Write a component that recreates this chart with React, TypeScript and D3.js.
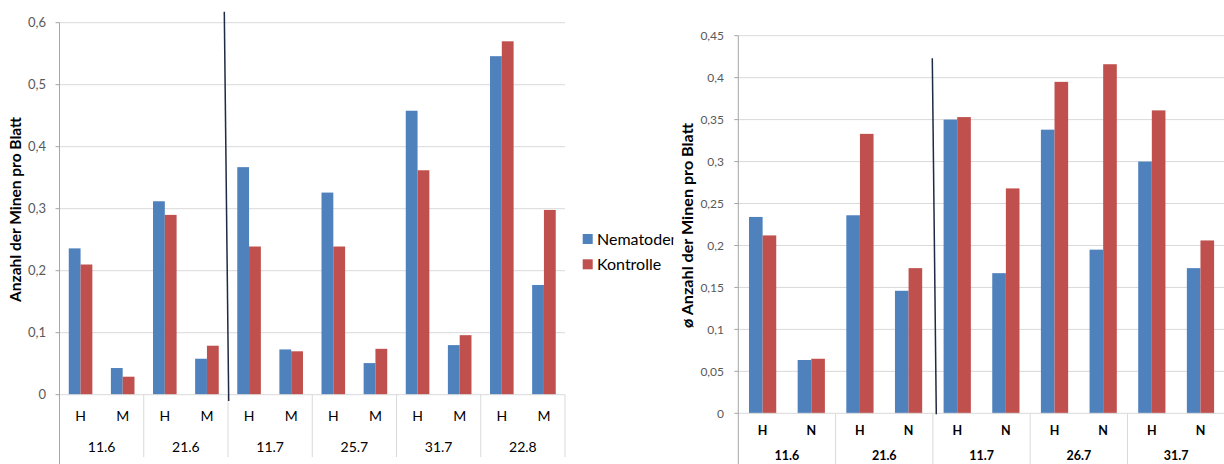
import React from "react";
import * as d3 from "d3";

// ---------- data ----------
const leftGroups = ["11.6", "21.6", "11.7", "25.7", "31.7", "22.8"];
const leftSubs = ["H", "M"];
const leftNematoden = [0.236, 0.043, 0.312, 0.058, 0.367, 0.073, 0.326, 0.051, 0.458, 0.08, 0.546, 0.177];
const leftKontrolle = [0.21, 0.029, 0.29, 0.079, 0.239, 0.07, 0.239, 0.074, 0.362, 0.096, 0.57, 0.298];
const leftTicks = [0, 0.1, 0.2, 0.3, 0.4, 0.5, 0.6];

const rightGroups = ["11.6", "21.6", "11.7", "26.7", "31.7"];
const rightSubs = ["H", "N"];
const rightNematoden = [0.234, 0.0635, 0.236, 0.146, 0.35, 0.167, 0.338, 0.195, 0.3, 0.173];
const rightKontrolle = [0.212, 0.065, 0.333, 0.173, 0.353, 0.268, 0.395, 0.416, 0.361, 0.206];
const rightTicks = [0, 0.05, 0.1, 0.15, 0.2, 0.25, 0.3, 0.35, 0.4, 0.45];

const seriesNames = ["Nematoden", "Kontrolle"];
const colors = ["#4f81bd", "#c0504d"];

const FONT = "Lato, 'Open Sans', sans-serif";
const fmt = (v: number) => String(+v.toFixed(2)).replace(".", ",");

type PanelProps = {
  groups: string[];
  subs: string[];
  s1: number[];
  s2: number[];
  ticks: number[];
  x0: number;
  x1: number;
  yZero: number;
  yTop: number;
  yMax: number;
  tickLabelX: number;
  tickFont: number;
  subY: number;
  groupY: number;
  labelFont: number;
  labelBold: boolean;
  sepBottom: number;
  divider: [number, number, number, number];
  title: string;
  titleX: number;
  titleY: number;
  titleFont: number;
  titleLen: number;
};

function Panel(p: PanelProps) {
  const n = p.groups.length * p.subs.length;
  const idx = d3.range(n).map(String);
  const xBand = d3.scaleBand<string>().domain(idx).range([p.x0, p.x1]).paddingInner(0).paddingOuter(0);
  const xGroup = d3.scaleBand<string>().domain(p.groups).range([p.x0, p.x1]);
  const y = d3.scaleLinear().domain([0, p.yMax]).range([p.yZero, p.yTop]);
  const bw = xBand.bandwidth() * 0.28;
  const series = [p.s1, p.s2];
  return (
    <g>
      {p.ticks.filter((t) => t > 0).map((t) => (
        <line key={"g" + t} x1={p.x0} x2={p.x1} y1={y(t)} y2={y(t)} stroke="#d9d9d9" strokeWidth={1} />
      ))}
      {p.ticks.map((t) => (
        <text key={"t" + t} x={p.tickLabelX} y={y(t)} dy="0.35em" textAnchor="end" fontSize={p.tickFont} fill="#595959" fontFamily={FONT}>
          {fmt(t)}
        </text>
      ))}
      {p.ticks.map((t) => (
        <line key={"tm" + t} x1={p.x0 - 4} x2={p.x0} y1={y(t)} y2={y(t)} stroke="#a6a6a6" strokeWidth={1} />
      ))}
      {series.map((s, si) =>
        s.map((v, i) => {
          const cx = (xBand(String(i)) as number) + xBand.bandwidth() / 2;
          const x = si === 0 ? cx - bw : cx;
          return <rect key={si + "-" + i} x={x} y={y(v)} width={bw} height={p.yZero - y(v)} fill={colors[si]} />;
        })
      )}
      <line x1={p.x0} x2={p.x1} y1={p.yZero} y2={p.yZero} stroke="#d9d9d9" strokeWidth={1} />
      <line x1={p.x0} x2={p.x0} y1={p.yTop} y2={464} stroke="#a6a6a6" strokeWidth={1} />
      {p.groups.map((g, gi) => {
        const gx = xGroup(g) as number;
        return (
          <g key={"grp" + g + gi}>
            {gi > 0 && <line x1={gx} x2={gx} y1={p.yZero} y2={p.sepBottom} stroke="#d9d9d9" strokeWidth={1} />}
            <text x={gx + xGroup.bandwidth() / 2} y={p.groupY} dy="0.35em" textAnchor="middle" fontSize={p.labelFont} fontWeight={p.labelBold ? "bold" : "normal"} fill="#000" fontFamily={FONT}>
              {g}
            </text>
          </g>
        );
      })}
      <line x1={p.x1} x2={p.x1} y1={p.yZero} y2={p.sepBottom} stroke="#d9d9d9" strokeWidth={1} />
      {idx.map((k, i) => (
        <text key={"s" + k} x={(xBand(k) as number) + xBand.bandwidth() / 2} y={p.subY} dy="0.35em" textAnchor="middle" fontSize={p.labelFont} fontWeight={p.labelBold ? "bold" : "normal"} fill="#000" fontFamily={FONT}>
          {p.subs[i % p.subs.length]}
        </text>
      ))}
      <line x1={p.divider[0]} y1={p.divider[1]} x2={p.divider[2]} y2={p.divider[3]} stroke="#1f2a44" strokeWidth={1.5} />
      <text
        transform={`translate(${p.titleX},${p.titleY}) rotate(-90)`}
        x={-p.titleLen / 2}
        dy="0.35em"
        textLength={p.titleLen}
        lengthAdjust="spacingAndGlyphs"
        fontSize={p.titleFont}
        fontWeight="bold"
        fill="#000"
        fontFamily={FONT}
      >
        {p.title}
      </text>
    </g>
  );
}

export default function App() {
  return (
    <svg width={1224} height={464} style={{ position: "absolute", left: 0, top: 0, background: "#fff" }}>
      <defs>
        <clipPath id="legclip">
          <rect x={570} y={200} width={103.5} height={100} />
        </clipPath>
      </defs>
      <rect x={0} y={0} width={1224} height={464} fill="#fff" />
      <Panel
        groups={leftGroups}
        subs={leftSubs}
        s1={leftNematoden}
        s2={leftKontrolle}
        ticks={leftTicks}
        x0={59.5}
        x1={565}
        yZero={394.7}
        yTop={22.7}
        yMax={0.6}
        tickLabelX={46}
        tickFont={13}
        subY={416}
        groupY={447}
        labelFont={14}
        labelBold={false}
        sepBottom={457}
        divider={[224.3, 11.7, 228.7, 401]}
        title="Anzahl der Minen pro Blatt"
        titleX={16}
        titleY={209.5}
        titleFont={14.5}
        titleLen={185}
      />
      <Panel
        groups={rightGroups}
        subs={rightSubs}
        s1={rightNematoden}
        s2={rightKontrolle}
        ticks={rightTicks}
        x0={738.3}
        x1={1224.8}
        yZero={413.3}
        yTop={35.7}
        yMax={0.45}
        tickLabelX={724}
        tickFont={12}
        subY={431}
        groupY={456}
        labelFont={12.5}
        labelBold={true}
        sepBottom={464}
        divider={[932.3, 58.3, 936.3, 414.3]}
        title="ø Anzahl der Minen pro Blatt"
        titleX={688}
        titleY={225.5}
        titleFont={15}
        titleLen={205}
      />
      <g clipPath="url(#legclip)">
        {seriesNames.map((s, i) => (
          <g key={s}>
            <rect x={582.7} y={234 + i * 25.3} width={10} height={10} fill={colors[i]} />
            <text x={597} y={244.5 + i * 25.3} fontSize={16} fill="#000" fontFamily={FONT}>
              {s}
            </text>
          </g>
        ))}
      </g>
    </svg>
  );
}
